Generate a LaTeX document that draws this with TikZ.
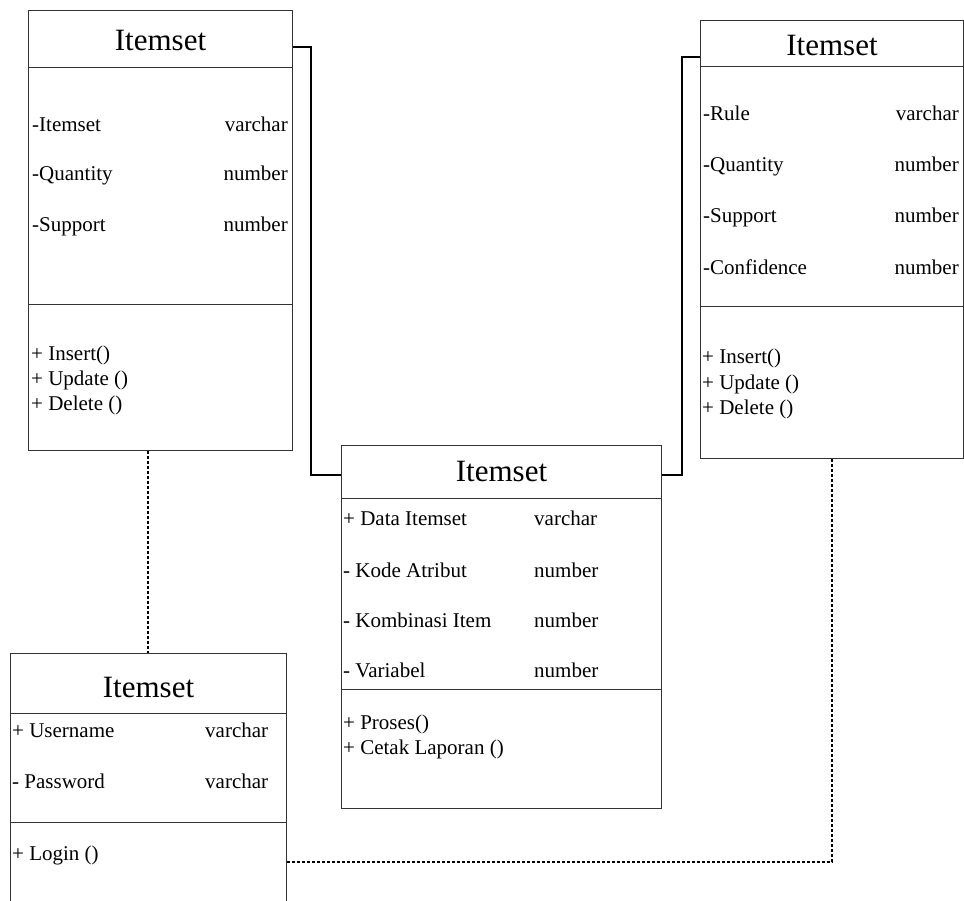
\documentclass[tikz,border=0pt]{standalone}
\usepackage{fontspec}
\setmainfont{Liberation Serif}
\begin{document}
\begin{tikzpicture}[x=1pt,y=-1pt,
  classbox/.style={draw=black!80, line width=1pt, inner sep=0pt, anchor=north west, fill=none},
  sepline/.style={draw=black!80, line width=1pt},
  ctitle/.style={font=\fontsize{31}{36}\selectfont, anchor=base, inner sep=0pt},
  attr/.style={font=\fontsize{21}{25}\selectfont, anchor=base west, inner sep=0pt},
  attrr/.style={font=\fontsize{21}{25}\selectfont, anchor=base east, inner sep=0pt},
  link/.style={draw=black, line width=2pt},
  dep/.style={draw=black, line width=1.6pt, dash pattern=on 3pt off 2pt}]
\useasboundingbox (0,0) rectangle (964,901);
\clip (0,0) rectangle (964,901);

% ---- class boxes ----
\node[classbox, minimum width=264pt, minimum height=440pt] (A) at (28,10) {};
\node[classbox, minimum width=263pt, minimum height=438pt] (B) at (700,20) {};
\node[classbox, minimum width=320pt, minimum height=363pt] (C) at (341,445) {};
\node[classbox, minimum width=276pt, minimum height=280pt] (D) at (10,653) {};

% ---- compartment separators ----
\draw[sepline] (A.west |- 0,68) -- (A.east |- 0,68);
\draw[sepline] (A.west |- 0,305) -- (A.east |- 0,305);
\draw[sepline] (B.west |- 0,67) -- (B.east |- 0,67);
\draw[sepline] (B.west |- 0,307) -- (B.east |- 0,307);
\draw[sepline] (C.west |- 0,498) -- (C.east |- 0,498);
\draw[sepline] (C.west |- 0,689) -- (C.east |- 0,689);
\draw[sepline] (D.west |- 0,713) -- (D.east |- 0,713);
\draw[sepline] (D.west |- 0,822) -- (D.east |- 0,822);

% ---- class A ----
\node[ctitle] (tA) at (A.north |- 0,51) {Itemset};
\node[attr]  (a1) at (32,132) {-Itemset};
\node[attrr] (a1t) at (288,132) {varchar};
\node[attr]  (a2) at (32,181) {-Quantity};
\node[attrr] (a2t) at (288,181) {number};
\node[attr]  (a3) at (32,232) {-Support};
\node[attrr] (a3t) at (288,232) {number};
\node[attr]  (am1) at (31,360) {+ Insert()};
\node[attr]  (am2) at (31,385) {+ Update ()};
\node[attr]  (am3) at (31,410) {+ Delete ()};

% ---- class B ----
\node[ctitle] (tB) at (B.north |- 0,56) {Itemset};
\node[attr]  (b1) at (703,121) {-Rule};
\node[attrr] (b1t) at (959,121) {varchar};
\node[attr]  (b2) at (703,172) {-Quantity};
\node[attrr] (b2t) at (959,172) {number};
\node[attr]  (b3) at (703,223) {-Support};
\node[attrr] (b3t) at (959,223) {number};
\node[attr]  (b4) at (703,275) {-Confidence};
\node[attrr] (b4t) at (959,275) {number};
\node[attr]  (bm1) at (702,363) {+ Insert()};
\node[attr]  (bm2) at (702,389) {+ Update ()};
\node[attr]  (bm3) at (702,414) {+ Delete ()};

% ---- class C ----
\node[ctitle] (tC) at (C.north |- 0,481) {Itemset};
\node[attr] (c1)  at (343,525) {+ Data Itemset};
\node[attr] (c1t) at (534,525) {varchar};
\node[attr] (c2)  at (343,577) {- Kode Atribut};
\node[attr] (c2t) at (534,577) {number};
\node[attr] (c3)  at (343,627) {- Kombinasi Item};
\node[attr] (c3t) at (534,627) {number};
\node[attr] (c4)  at (343,677) {- Variabel};
\node[attr] (c4t) at (534,677) {number};
\node[attr] (cm1) at (343,729) {+ Proses()};
\node[attr] (cm2) at (343,754) {+ Cetak Laporan ()};

% ---- class D ----
\node[ctitle] (tD) at (D.north |- 0,697) {Itemset};
\node[attr] (d1)  at (12,737) {+ Username};
\node[attr] (d1t) at (205,737) {varchar};
\node[attr] (d2)  at (12,788) {- Password};
\node[attr] (d2t) at (205,788) {varchar};
\node[attr] (dm1) at (12,860) {+ Login ()};

% ---- associations ----
\draw[link] (A.east |- 0,47) -- (311,47) -- (311,475) -- (C.west |- 0,475);
\draw[link] (C.east |- 0,475) -- (682,475) -- (682,57) -- (B.west |- 0,57);

% ---- dependencies ----
\draw[dep] (A.south -| 148,0) -- (D.north -| 148,0);
\draw[dep] (D.east |- 0,862) -- (832,862) -- (B.south -| 832,0);
\end{tikzpicture}
\end{document}
